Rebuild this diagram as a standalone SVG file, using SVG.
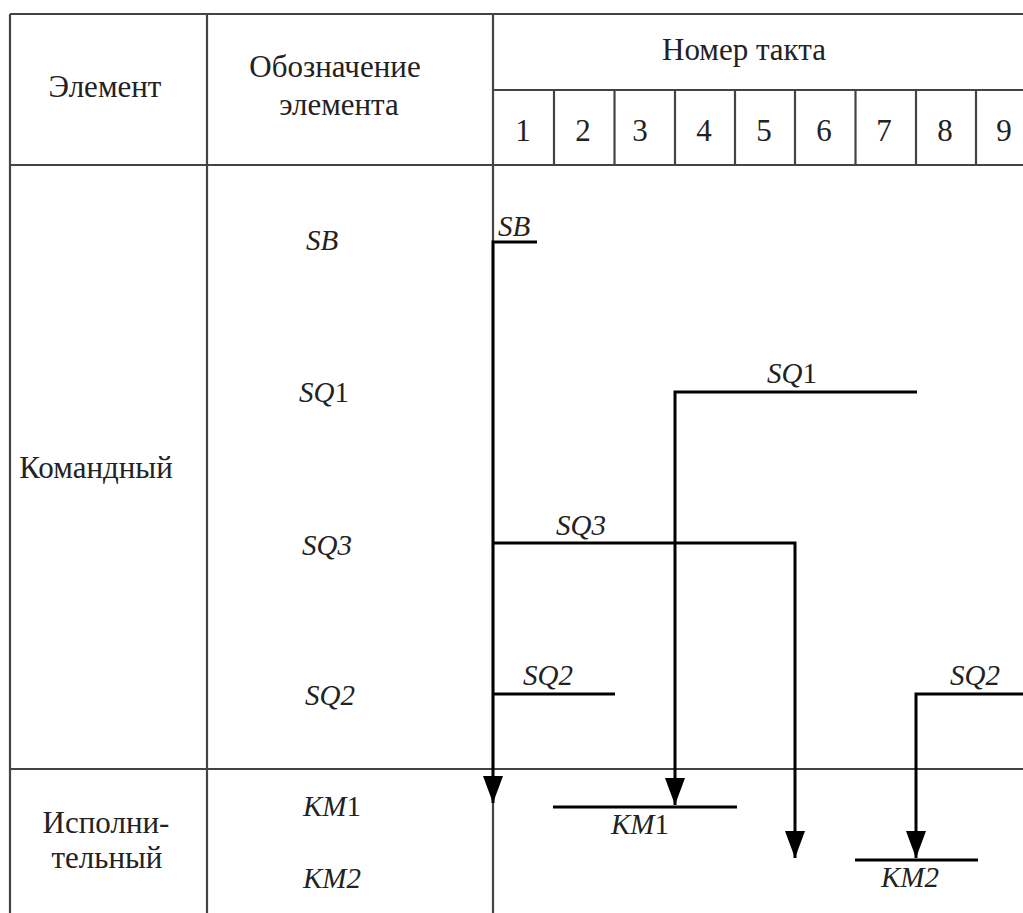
<svg xmlns="http://www.w3.org/2000/svg" width="1023" height="913" viewBox="0 0 1023 913">
<style>
.grid{stroke:#444;stroke-width:2.2;fill:none}
.sig{stroke:#000;stroke-width:3;fill:none}
.hd{font-family:"Liberation Serif","Times New Roman",serif;font-size:31px;fill:#222}
.lb{font-family:"Liberation Serif","Times New Roman",serif;font-size:29px;font-style:italic;fill:#222}
.up{font-style:normal}
</style>
<defs>
<marker id="arr" viewBox="0 0 27 20" refX="27" refY="10" markerWidth="27" markerHeight="20" markerUnits="userSpaceOnUse" orient="auto">
<path d="M0,0 L27,10 L0,20 Z" fill="#000"/>
</marker>
</defs>
<rect width="1023" height="913" fill="#fff"/>
<g id="table" class="grid">
<path d="M10,14 H1023 M10,14 V913 M207,14 V913 M493,14 V913 M10,165 H1023 M493,90 H1023 M10,769 H1023"/>
<path d="M554,90 V165 M614.5,90 V165 M675,90 V165 M735,90 V165 M795,90 V165 M855.5,90 V165 M916,90 V165 M976,90 V165"/>
</g>
<g id="header">
<text class="hd" x="105" y="97" text-anchor="middle">Элемент</text>
<text class="hd" x="335" y="77" text-anchor="middle">Обозначение</text>
<text class="hd" x="339" y="115" text-anchor="middle">элемента</text>
<text class="hd" x="744" y="60" text-anchor="middle">Номер такта</text>
<g text-anchor="middle">
<text class="hd" x="523" y="141">1</text>
<text class="hd" x="583" y="141">2</text>
<text class="hd" x="640" y="141">3</text>
<text class="hd" x="704" y="141">4</text>
<text class="hd" x="764" y="141">5</text>
<text class="hd" x="824" y="141">6</text>
<text class="hd" x="884" y="141">7</text>
<text class="hd" x="945" y="141">8</text>
<text class="hd" x="1004" y="141">9</text>
</g>
</g>
<g id="groups">
<text class="hd" x="96" y="478" text-anchor="middle">Командный</text>
<text class="hd" x="106" y="833" text-anchor="middle">Исполни-</text>
<text class="hd" x="107" y="868" text-anchor="middle">тельный</text>
</g>
<g id="names">
<text class="lb" x="322" y="250" text-anchor="middle">SB</text>
<text class="lb" x="324" y="402" text-anchor="middle">SQ<tspan class="up">1</tspan></text>
<text class="lb" x="327" y="555" text-anchor="middle">SQ3</text>
<text class="lb" x="330" y="705" text-anchor="middle">SQ2</text>
<text class="lb" x="332" y="816" text-anchor="middle">KM<tspan class="up">1</tspan></text>
<text class="lb" x="332" y="888" text-anchor="middle">KM2</text>
</g>
<g id="connectors">
<path class="sig" d="M537,242 H493 V803" marker-end="url(#arr)"/>
<path class="sig" d="M917,392 H675 V805" marker-end="url(#arr)"/>
<path class="sig" d="M493,543 H795 V858" marker-end="url(#arr)"/>
<path class="sig" d="M615,694 H493"/>
<path class="sig" d="M1023,694 H916 V858" marker-end="url(#arr)"/>
</g>
<g id="bars">
<path class="sig" d="M553,807 H737"/>
<path class="sig" d="M855,860 H978"/>
</g>
<g id="chart-labels">
<text class="lb" x="498" y="236">SB</text>
<text class="lb" x="767" y="383">SQ<tspan class="up">1</tspan></text>
<text class="lb" x="556" y="535">SQ3</text>
<text class="lb" x="523" y="685">SQ2</text>
<text class="lb" x="950" y="685">SQ2</text>
<text class="lb" x="611" y="834">KM<tspan class="up">1</tspan></text>
<text class="lb" x="881" y="887">KM2</text>
</g>
</svg>
